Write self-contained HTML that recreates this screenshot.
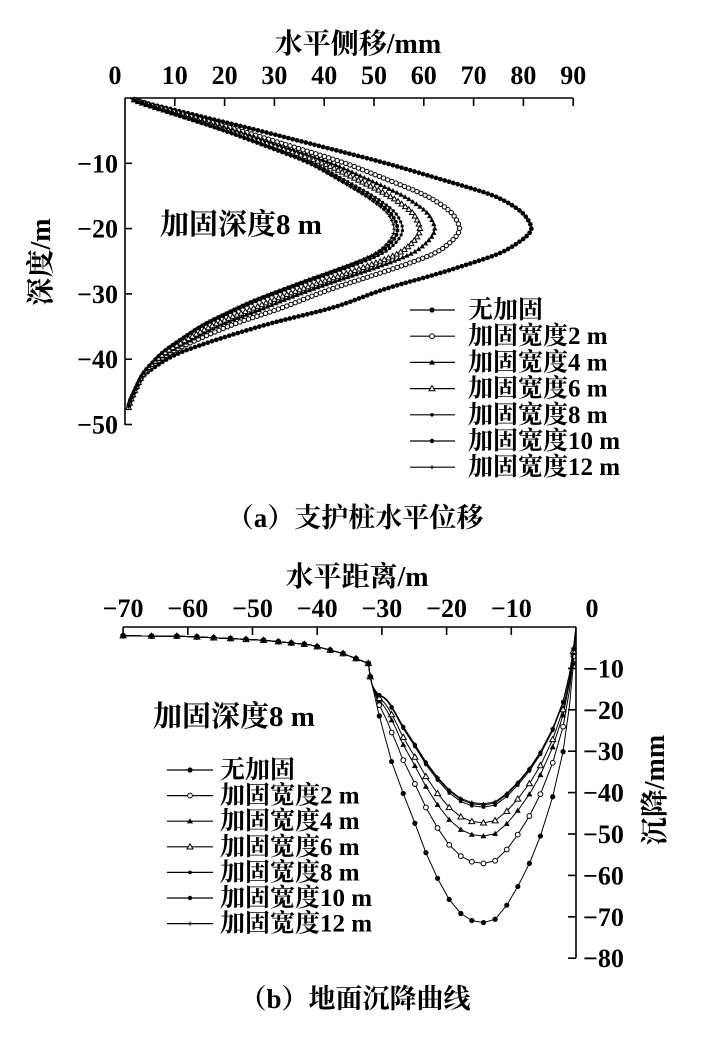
<!DOCTYPE html>
<html><head><meta charset="utf-8"><style>
body{margin:0;background:#fff;}
svg text{font-family:"Liberation Serif","Noto Serif CJK SC",serif;font-weight:bold;fill:#000;}
</style></head><body>
<svg id="s" width="718" height="1048" viewBox="0 0 718 1048" xmlns="http://www.w3.org/2000/svg">
<rect width="718" height="1048" fill="#fff"/>
</svg>
<script>
const S=document.getElementById('s');const NS='http://www.w3.org/2000/svg';
function el(t,a,txt){const e=document.createElementNS(NS,t);for(const k in a)e.setAttribute(k,a[k]);if(txt!==undefined)e.textContent=txt;S.appendChild(e);return e;}
function line(x1,y1,x2,y2,w){el('line',{x1,y1,x2,y2,stroke:'#000','stroke-width':w||1.6});}
function txt(x,y,s,size,anchor,extra){const a={x,y,'font-size':size,'text-anchor':anchor||'middle'};Object.assign(a,extra||{});return el('text',a,s);}
function marker(type,x,y,sc){sc=sc||1;
 if(type==0)el('circle',{cx:x,cy:y,r:2.6*sc,fill:'#000'});
 else if(type==1)el('circle',{cx:x,cy:y,r:2.4*sc,fill:'#fff',stroke:'#000','stroke-width':1});
 else if(type==2)el('path',{d:`M${x},${y-3*sc}L${x+3*sc},${y+2.2*sc}L${x-3*sc},${y+2.2*sc}Z`,fill:'#000'});
 else if(type==3)el('path',{d:`M${x},${y-3*sc}L${x+3*sc},${y+2.2*sc}L${x-3*sc},${y+2.2*sc}Z`,fill:'#fff',stroke:'#000','stroke-width':1});
 else if(type==4)el('circle',{cx:x,cy:y,r:1.8*sc,fill:'#000'});
 else if(type==5)el('circle',{cx:x,cy:y,r:2.2*sc,fill:'#000'});
 else {line(x-2*sc,y,x+2*sc,y,1);line(x,y-2*sc,x,y+2*sc,1);}
}
function poly(pts,w){el('polyline',{points:pts.map(p=>p[0].toFixed(1)+','+p[1].toFixed(1)).join(' '),fill:'none',stroke:'#000','stroke-width':w||1});}
function markersAlong(pts,step,type,sc){let next=step;
 for(let i=1;i<pts.length;i++){const dx=pts[i][0]-pts[i-1][0],dy=pts[i][1]-pts[i-1][1];const L=Math.hypot(dx,dy);
  if(L<1e-6)continue;let pos=next;let n=0;
  while(pos<=L&&n<1000){marker(type,pts[i-1][0]+dx*pos/L,pts[i-1][1]+dy*pos/L,sc);pos+=step;n++;}
  next=pos-L;}}
function interp(k,x){if(x<=k[0][0])return k[0][1];for(let i=1;i<k.length;i++){if(x<=k[i][0]){const t=(x-k[i-1][0])/(k[i][0]-k[i-1][0]);return k[i-1][1]+t*(k[i][1]-k[i-1][1]);}}return k[k.length-1][1];}
function smooth(k,x){let s=0,w=0;for(let j=-4;j<=4;j++){const ww=5-Math.abs(j);s+=ww*interp(k,x+j*0.3);w+=ww;}return s/w;}

// ===== TOP CHART =====
const X0=125,Y0=98,SX=4.98,SY=6.53;
line(X0,Y0,573,Y0);line(X0,Y0,X0,425);
for(let v=10;v<=90;v+=10){const x=X0+v*SX;line(x,Y0,x,Y0+8);txt(x,84,String(v),26);}
txt(115,84,'0',26);
for(let d=10;d<=50;d+=10){const y=Y0+d*SY;line(X0,y,X0+7,y);txt(118,y+9,'−'+d,26,'end');}
txt(358,53,'水平侧移/mm',28);
txt(50,262,'深度/m',28,'middle',{transform:'rotate(-90 50 262)'});
txt(160,234,'加固深度8 m',29,'start');
const T0=[[0,0],[5,27],[10,52.6],[15,74.7],[17.5,80],[20,82],[20.9,81.3],[23.7,76],[27,62.6],[29.1,52.5],[32.2,41.8],[34.2,30.5],[36.8,19.1],[39.3,9.7],[42.4,3.6],[46.4,1],[47.6,0.6]];
const T1=[[0,0],[5,20],[10,37.5],[15,49],[17.5,53.5],[20,55],[21.5,54.3],[23.7,51.5],[25.5,45.8],[28,36.5],[31.1,25.7],[34.7,15.7],[38.8,7.6],[42,3.6],[46.4,1],[47.6,0.6]];
const amps=[82,67.5,62.5,59.5,56,55,54.3];
amps.forEach((A,k)=>{const f=(A-55)/27;const pts=[];
 for(let i=0;i<=95;i++){const d=i*0.5;const a=smooth(T0,d),b=smooth(T1,d);const v=Math.max(0,b+(a-b)*f);pts.push([X0+v*SX,Y0+d*SY]);}
 poly(pts,1);markersAlong(pts,4.5,k,0.9);});
const names=['无加固','加固宽度2 m','加固宽度4 m','加固宽度6 m','加固宽度8 m','加固宽度10 m','加固宽度12 m'];
names.forEach((n,i)=>{const y=310+i*26.2;line(410,y,455,y,1.2);marker(i,432,y,1);txt(468,y+8,n,25,'start');});
txt(355,527,'（a）支护桩水平位移',27);

// ===== BOTTOM CHART =====
const BX=576,BY=627,BSX=6.47,BSY=4.14;
line(123,BY,BX,BY);line(BX,BY,BX,958);
for(let v=-70;v<0;v+=10){const x=BX+v*BSX;line(x,BY,x,BY+8);txt(x,617,'−'+(-v),26);}
txt(592,617,'0',26);
for(let v=10;v<=80;v+=10){const y=BY+v*BSY;line(BX-8,y,BX,y);txt(583,y+9,'−'+v,26,'start');}
txt(357,586,'水平距离/m',28);
txt(664,790,'沉降/mm',28,'middle',{transform:'rotate(-90 664 790)'});
txt(153,726,'加固深度8 m',29,'start');
const base=[[-70,-2.1],[-65.6,-2.2],[-61.7,-2.2],[-58.6,-2.4],[-56,-2.6],[-53.4,-2.8],[-48.3,-3.2],[-41.1,-4.3],[-36,-6.4],[-32.1,-8.8],[-31.8,-12],[-30.4,-21.5],[-28.5,-32.5],[-26.7,-40.2],[-24.9,-47.4],[-23.2,-54.5],[-21.4,-60.7],[-19.6,-65.8],[-17.8,-69.2],[-16.1,-70.9],[-14.3,-71.4],[-12.5,-70.6],[-10.7,-67.2],[-9,-62.7],[-7.2,-57.1],[-5.5,-50.5],[-3.6,-41],[-2,-30.1],[-1,-19],[-0.4,-8.8],[0,0]];
const mins=[71.4,57.1,50.5,47.3,43.5,43,42.7];
const mX=[-70,-65.6,-61.7,-58.6,-56,-53.4,-51,-48.3,-46,-44,-42,-40,-38,-36,-34,-32.1,-31.8,-30.4,-28.5,-26.7,-24.9,-23.2,-21.4,-19.6,-17.8,-16.1,-14.3,-12.5,-10.7,-9,-7.2,-5.5,-3.6,-2,-0.4];
mins.forEach((m,k)=>{const r=m/71.4;
 function Y(X){const y0=interp(base,X);let g=0;if(X>-31.5)g=Math.min(1,(X+31.5)/4.5);let y=y0*(1-(1-r)*g);
   if(k>0&&X>-31.5&&X<-27){y=y*(1-0.25*Math.sin(Math.PI*(X+31.5)/4.5)*(1-r)*2.2);}return y;}
 const pts=[];for(let i=0;i<=700;i++){const X=-70+i*0.1;pts.push([BX+X*BSX,BY-Y(X)*BSY]);}
 poly(pts,1);
 mX.forEach(X=>marker(k,BX+X*BSX,BY-Y(X)*BSY,1));
});
names.forEach((n,i)=>{const y=770+i*25.6;line(167,y,213,y,1.2);marker(i,190,y,1);txt(220,y+8,n,25,'start');});
txt(355,1008,'（b）地面沉降曲线',27);
</script>
</body></html>
